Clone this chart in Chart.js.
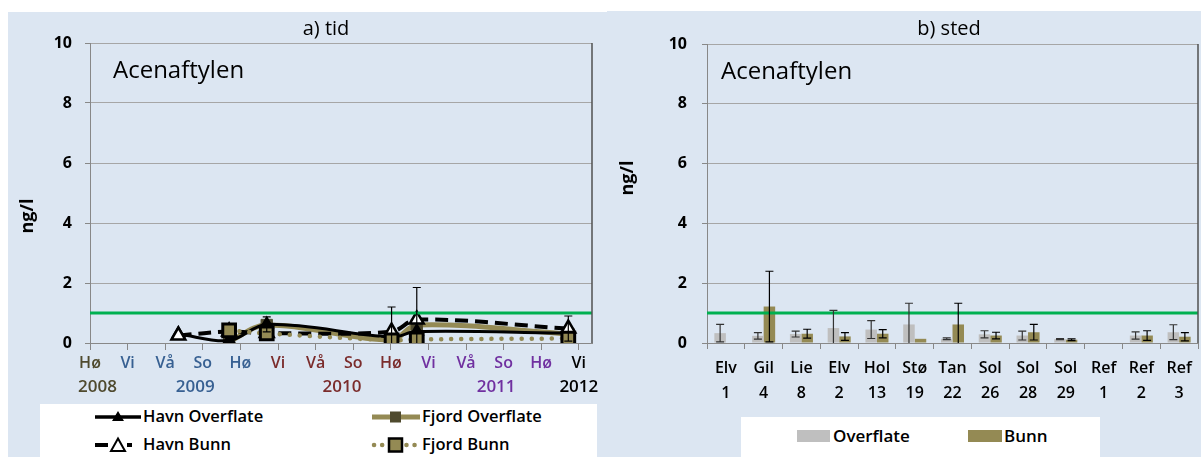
<!DOCTYPE html>
<html>
<head>
<meta charset="utf-8">
<script src="https://cdn.jsdelivr.net/npm/chart.js@4.4.0/dist/chart.umd.min.js"></script>
<style>
  body { margin: 0; width: 1201px; height: 457px; background: #fff; position: relative; overflow: hidden; font-family: "Open Sans", sans-serif; }
  .panel { position: absolute; background: #dce6f2; }
  canvas { position: absolute; top: 0; }
  .txt { position: absolute; white-space: nowrap; line-height: 1; color: #000; }
  .leg { font-weight: 600; }
  .box { position: absolute; background: #fff; }
  .ylab { position: absolute; width: 50px; height: 22px; line-height: 22px; text-align: center; font-weight: bold; font-size: 18px; transform: rotate(-90deg); }
  svg { position: absolute; overflow: visible; }
</style>
</head>
<body>
<div class="panel" style="left:8px;top:12px;width:599px;height:445px"></div>
<div class="panel" style="left:607px;top:11px;width:594px;height:446px"></div>

<canvas id="tid" width="606" height="457" style="left:0"></canvas>
<canvas id="sted" width="595" height="457" style="left:606px"></canvas>

<!-- titles -->
<div class="txt" style="left:276px;top:18px;width:100px;text-align:center;font-size:20px">a) tid</div>
<div class="txt" style="left:899px;top:18px;width:100px;text-align:center;font-size:20px">b) sted</div>
<div class="txt" style="left:113px;top:57px;font-size:24px">Acenaftylen</div>
<div class="txt" style="left:721px;top:58px;font-size:24px">Acenaftylen</div>
<div class="ylab" style="left:1px;top:205px">ng/l</div>
<div class="ylab" style="left:601px;top:167px">ng/l</div>

<!-- legend a) -->
<div class="box" style="left:40px;top:404px;width:557px;height:53px"></div>
<svg style="left:94px;top:409px" width="48" height="16">
  <line x1="1" y1="8" x2="47" y2="8" stroke="#000" stroke-width="3.5"/>
  <polygon points="24,2 30,12 18,12" fill="#000"/>
</svg>
<div class="txt leg" style="left:143px;top:408px;font-size:16.5px">Havn Overflate</div>
<svg style="left:371px;top:409px" width="50" height="16">
  <line x1="1" y1="8" x2="49" y2="8" stroke="#948a54" stroke-width="5"/>
  <rect x="19" y="2.5" width="11" height="11" fill="#4f4a2e"/>
</svg>
<div class="txt leg" style="left:422px;top:408px;font-size:16.5px">Fjord Overflate</div>
<svg style="left:94px;top:436px" width="48" height="18">
  <line x1="1" y1="9" x2="14" y2="9" stroke="#000" stroke-width="4"/>
  <line x1="33" y1="9" x2="38" y2="9" stroke="#000" stroke-width="4"/>
  <polygon points="24,2.5 31,15 17,15" fill="#fff" stroke="#000" stroke-width="2"/>
</svg>
<div class="txt leg" style="left:143px;top:436px;font-size:16.5px">Havn Bunn</div>
<svg style="left:371px;top:436px" width="50" height="18">
  <line x1="3" y1="9" x2="47" y2="9" stroke="#948a54" stroke-width="4.5" stroke-linecap="round" stroke-dasharray="0.1 8"/>
  <rect x="18" y="2.5" width="13" height="13" fill="#948a54" stroke="#000" stroke-width="2.5"/>
</svg>
<div class="txt leg" style="left:422px;top:436px;font-size:16.5px">Fjord Bunn</div>

<!-- legend b) -->
<div class="box" style="left:741px;top:417px;width:359px;height:40px"></div>
<div style="position:absolute;left:797px;top:430px;width:33px;height:12px;background:#bfbfbf"></div>
<div class="txt leg" style="left:833px;top:427px;font-size:17px">Overflate</div>
<div style="position:absolute;left:968px;top:430px;width:34px;height:12px;background:#948a54"></div>
<div class="txt leg" style="left:1004px;top:427px;font-size:17px">Bunn</div>

<script>
// ---- a) tid ----
const seasons = ['Hø', 'Vi', 'Vå', 'So', 'Hø', 'Vi', 'Vå', 'So', 'Hø', 'Vi', 'Vå', 'So', 'Hø', 'Vi'];
const seasonColors = ['#4f4a2e', '#376092', '#376092', '#376092', '#376092', '#7b2c2c', '#7b2c2c', '#7b2c2c', '#7b2c2c', '#7030a0', '#7030a0', '#7030a0', '#7030a0', '#000000'];
const years = ['2008', '2009', '2010', '2011', '2012'];
const yearAt = [0.2, 2.8, 6.7, 10.8, 13.0];
const yearColors = ['#4f4a2e', '#376092', '#7b2c2c', '#7030a0', '#000000'];

// sampling times, in seasons counted from autumn 2008
const sampleTimes = [2.35, 3.7, 4.7, 8.02, 8.69, 12.72];
const havnOverflate = [0.3, 0.08, 0.62, 0.2, 0.38, 0.33];
const havnOverflateErr = [0, 0, 0.25, 0, 0, 0];
const havnBunn = [0.25, 0.38, 0.33, 0.38, 0.78, 0.48];
const havnBunnErr = [0, 0, 0, 0.82, 1.07, 0.42];
const fjordOverflate = [null, 0.05, 0.6, 0.1, 0.6, 0.3];
const fjordBunn = [null, 0.42, 0.32, 0.09, 0.12, 0.15];

// ---- b) sted ----
const sites = [['Elv', '1'], ['Gil', '4'], ['Lie', '8'], ['Elv', '2'], ['Hol', '13'], ['Stø', '19'], ['Tan', '22'],
  ['Sol', '26'], ['Sol', '28'], ['Sol', '29'], ['Ref', '1'], ['Ref', '2'], ['Ref', '3']];
const overflate = [0.33, 0.24, 0.3, 0.5, 0.45, 0.62, 0.14, 0.29, 0.25, 0.13, null, 0.25, 0.36];
const overflateErr = [0.29, 0.11, 0.1, 0.59, 0.3, 0.71, 0.03, 0.12, 0.15, 0.02, null, 0.12, 0.25];
const bunn = [null, 1.22, 0.31, 0.22, 0.31, 0.14, 0.62, 0.25, 0.36, 0.11, null, 0.25, 0.21];
const bunnErr = [null, 1.18, 0.15, 0.13, 0.14, 0, 0.71, 0.11, 0.26, 0.03, null, 0.16, 0.14];

const limitValue = 1;

Chart.defaults.font.family = '"Open Sans", sans-serif';
Chart.defaults.color = '#000';

const limitLine = {
  id: 'limitLine',
  afterDatasetsDraw(chart) {
    const { ctx, chartArea: a, scales: { y } } = chart;
    const py = y.getPixelForValue(limitValue);
    ctx.save();
    ctx.strokeStyle = '#00b050';
    ctx.lineWidth = 3;
    ctx.beginPath();
    ctx.moveTo(a.left, py);
    ctx.lineTo(a.right, py);
    ctx.stroke();
    // right frame edge
    ctx.strokeStyle = '#505050';
    ctx.lineWidth = 1.5;
    ctx.beginPath();
    ctx.moveTo(a.right, a.top);
    ctx.lineTo(a.right, a.bottom);
    ctx.stroke();
    ctx.restore();
  }
};

const errorBars = {
  id: 'errorBars',
  afterDatasetsDraw(chart) {
    const { ctx, chartArea: a, scales: { y } } = chart;
    ctx.save();
    ctx.beginPath();
    ctx.rect(a.left, a.top - 2, a.width, a.height + 2);
    ctx.clip();
    chart.data.datasets.forEach((ds, di) => {
      if (!ds.errors) return;
      const meta = chart.getDatasetMeta(di);
      ctx.strokeStyle = ds.errorColor || '#000';
      ctx.lineWidth = 1.2;
      ds.errors.forEach((e, i) => {
        const d = ds.data[i];
        const v = d !== null && typeof d === 'object' ? d.y : d;
        if (!e || v == null) return;
        const x = meta.data[i].x;
        const hi = y.getPixelForValue(v + e);
        const lo = y.getPixelForValue(Math.max(v - e, 0));
        ctx.beginPath();
        ctx.moveTo(x, lo);
        ctx.lineTo(x, hi);
        ctx.moveTo(x - 4, hi);
        ctx.lineTo(x + 4, hi);
        if (v - e > 0) {
          ctx.moveTo(x - 4, lo);
          ctx.lineTo(x + 4, lo);
        }
        ctx.stroke();
      });
    });
    ctx.restore();
  }
};

const yearLabels = {
  id: 'yearLabels',
  afterDraw(chart) {
    const { ctx, scales: { x } } = chart;
    ctx.save();
    ctx.font = '600 17px "Open Sans", sans-serif';
    ctx.textAlign = 'center';
    ctx.textBaseline = 'middle';
    years.forEach((yr, i) => {
      ctx.fillStyle = yearColors[i];
      ctx.fillText(yr, x.getPixelForValue(yearAt[i]), 387);
    });
    ctx.restore();
  }
};

function yAxis(width, pad) {
  return {
    min: 0,
    max: 10,
    afterFit: (s) => { s.width = width; },
    ticks: { stepSize: 2, padding: pad, font: { size: 16, weight: 'bold' }, color: '#000' },
    grid: { color: '#a6a6a6', tickLength: 5, tickColor: '#888' },
    border: { color: '#888' }
  };
}

function pts(vals) {
  return sampleTimes.map((t, i) => ({ x: t, y: vals[i] }));
}

new Chart(document.getElementById('tid'), {
  type: 'line',
  data: {
    datasets: [
      {
        label: 'Fjord Bunn', data: pts(fjordBunn), order: 0,
        borderColor: '#948a54', borderWidth: 4.5, borderDash: [0.1, 10], borderCapStyle: 'round',
        pointStyle: 'rect', pointRadius: 9, pointBackgroundColor: '#948a54', pointBorderColor: '#000', pointBorderWidth: 3
      },
      {
        label: 'Havn Bunn', data: pts(havnBunn), errors: havnBunnErr, order: 1,
        borderColor: '#000', borderWidth: 4, borderDash: [13, 7],
        pointStyle: 'triangle', pointRadius: 8, pointBackgroundColor: '#fff', pointBorderColor: '#000', pointBorderWidth: 2.5
      },
      {
        label: 'Havn Overflate', data: pts(havnOverflate), errors: havnOverflateErr, order: 2,
        borderColor: '#000', borderWidth: 3,
        pointStyle: 'triangle', pointRadius: 6, pointBackgroundColor: '#000', pointBorderColor: '#000'
      },
      {
        label: 'Fjord Overflate', data: pts(fjordOverflate), order: 3,
        borderColor: '#948a54', borderWidth: 5,
        pointStyle: 'rect', pointRadius: 8, pointBackgroundColor: '#4f4a2e', pointBorderColor: '#4f4a2e', pointBorderWidth: 1
      }
    ]
  },
  options: {
    responsive: false,
    animation: false,
    spanGaps: true,
    elements: { line: { tension: 0.35 } },
    layout: { padding: { top: 43, right: 14, left: 0, bottom: 0 } },
    plugins: { legend: { display: false }, tooltip: { enabled: false } },
    scales: {
      x: {
        type: 'linear',
        min: 0,
        max: 13.35,
        afterFit: (s) => { s.height = 457 - 343; },
        afterBuildTicks: (s) => { s.ticks = seasons.map((_, i) => ({ value: i })); },
        ticks: {
          autoSkip: false, maxRotation: 0, padding: 4,
          font: { size: 16, weight: 600 },
          callback: (v) => seasons[v],
          color: (c) => seasonColors[c.index]
        },
        grid: { drawOnChartArea: false, tickLength: 7, color: '#888' },
        border: { color: '#888' }
      },
      y: yAxis(90, 13)
    }
  },
  plugins: [limitLine, errorBars, yearLabels]
});

new Chart(document.getElementById('sted'), {
  type: 'bar',
  data: {
    labels: sites,
    datasets: [
      { label: 'Overflate', data: overflate, errors: overflateErr, errorColor: '#333', backgroundColor: '#bfbfbf' },
      { label: 'Bunn', data: bunn, errors: bunnErr, errorColor: '#000', backgroundColor: '#948a54' }
    ]
  },
  options: {
    responsive: false,
    animation: false,
    categoryPercentage: 0.61,
    barPercentage: 1,
    layout: { padding: { top: 44, right: 3, left: 0, bottom: 0 } },
    plugins: { legend: { display: false }, tooltip: { enabled: false } },
    scales: {
      x: {
        afterFit: (s) => { s.height = 457 - 343; },
        ticks: { autoSkip: false, maxRotation: 0, padding: 7, font: { size: 16, weight: 600, lineHeight: 1.54 }, color: '#000' },
        grid: { offset: true, drawOnChartArea: false, tickLength: 6, color: '#888' },
        border: { color: '#888' }
      },
      y: yAxis(101, 15)
    }
  },
  plugins: [limitLine, errorBars]
});
</script>
</body>
</html>
